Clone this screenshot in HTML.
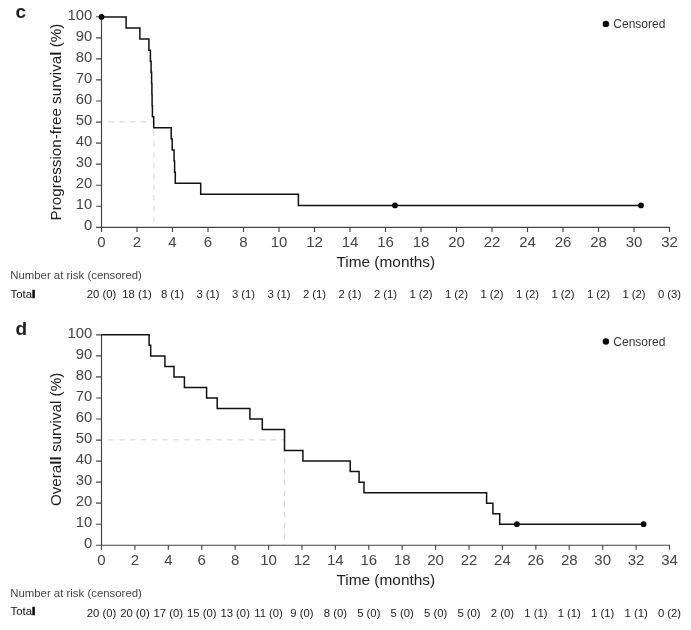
<!DOCTYPE html>
<html lang="en"><head><meta charset="utf-8"><title>Kaplan-Meier survival curves</title>
<style>
html,body{margin:0;padding:0;background:#fff}
body{width:691px;height:630px;overflow:hidden}
svg{display:block;font-family:"Liberation Sans",Arial,sans-serif}
.pl{font-weight:bold;font-size:19px;fill:#222}
.ax{fill:none;stroke:#444;stroke-width:1.15}
.dash{fill:none;stroke:#d4d4d4;stroke-width:1;stroke-dasharray:5.8 5}
.cv{fill:none;stroke:#111;stroke-width:1.5;stroke-linejoin:miter}
.dot{fill:#0a0a0a}
.yt{font-size:14.8px;fill:#444;text-anchor:end}
.xt{font-size:15px;fill:#444;text-anchor:middle}
.ti{font-size:15.4px;fill:#1e1e1e;text-anchor:middle}
.yl{font-size:15.2px}
.b{font-weight:bold}
.lg{font-size:12px;fill:#333}
.nr{font-size:11.4px;fill:#444}
.tt{font-size:11.4px;fill:#111}
.bl{font-weight:bold;fill:#000;stroke:#000;stroke-width:0.7}
.rk{font-size:11.3px;fill:#222;text-anchor:middle}
</style></head>
<body>
<svg width="691" height="630" viewBox="0 0 691 630">
<rect width="691" height="630" fill="#fff"/>
<g class="panel">
<text class="pl" x="15.6" y="17.85">c</text>
<path class="dash" d="M108.3 121.85H153.90V227.35"/>
<path class="ax" d="M101.50 16.25V227.35H670.00"/>
<path class="ax" d="M96.10 227.35H101.50M96.10 206.29H101.50M96.10 185.23H101.50M96.10 164.17H101.50M96.10 143.11H101.50M96.10 122.05H101.50M96.10 100.99H101.50M96.10 79.93H101.50M96.10 58.87H101.50M96.10 37.81H101.50M96.10 16.75H101.50M101.50 227.35v4.6M137.00 227.35v4.6M172.50 227.35v4.6M208.00 227.35v4.6M243.50 227.35v4.6M279.00 227.35v4.6M314.50 227.35v4.6M350.00 227.35v4.6M385.50 227.35v4.6M421.00 227.35v4.6M456.50 227.35v4.6M492.00 227.35v4.6M527.50 227.35v4.6M563.00 227.35v4.6M598.50 227.35v4.6M634.00 227.35v4.6M669.50 227.35v4.6"/>
<text class="yt" x="92.15" y="230.25">0</text>
<text class="yt" x="92.15" y="209.19">10</text>
<text class="yt" x="92.15" y="188.13">20</text>
<text class="yt" x="92.15" y="167.07">30</text>
<text class="yt" x="92.15" y="146.01">40</text>
<text class="yt" x="92.15" y="124.95">50</text>
<text class="yt" x="92.15" y="103.89">60</text>
<text class="yt" x="92.15" y="82.83">70</text>
<text class="yt" x="92.15" y="61.77">80</text>
<text class="yt" x="92.15" y="40.71">90</text>
<text class="yt" x="92.15" y="19.65">100</text>
<text class="xt" x="101.50" y="247.45">0</text>
<text class="xt" x="137.00" y="247.45">2</text>
<text class="xt" x="172.50" y="247.45">4</text>
<text class="xt" x="208.00" y="247.45">6</text>
<text class="xt" x="243.50" y="247.45">8</text>
<text class="xt" x="279.00" y="247.45">10</text>
<text class="xt" x="314.50" y="247.45">12</text>
<text class="xt" x="350.00" y="247.45">14</text>
<text class="xt" x="385.50" y="247.45">16</text>
<text class="xt" x="421.00" y="247.45">18</text>
<text class="xt" x="456.50" y="247.45">20</text>
<text class="xt" x="492.00" y="247.45">22</text>
<text class="xt" x="527.50" y="247.45">24</text>
<text class="xt" x="563.00" y="247.45">26</text>
<text class="xt" x="598.50" y="247.45">28</text>
<text class="xt" x="634.00" y="247.45">30</text>
<text class="xt" x="669.50" y="247.45">32</text>
<text class="ti" x="385.80" y="266.95">Time (months)</text>
<text class="ti yl" transform="translate(61.3 122.05) rotate(-90)">Progression-free surviva<tspan class="b">l</tspan> (%)</text>
<path class="cv" d="M101.50 16.90H126.10V27.99H139.90V39.08H148.90V50.18H150.40V61.27H151.10V72.36H151.60V83.45H151.90V94.54H152.10V105.64H152.40V116.73H153.70V127.82H171.20V138.91H172.20V150.01H174.10V161.10H174.60V172.19H175.30V183.28H200.70V194.37H298.40V205.47H641.00"/>
<circle class="dot" cx="101.50" cy="16.90" r="2.85"/>
<circle class="dot" cx="395.00" cy="205.47" r="2.85"/>
<circle class="dot" cx="641.00" cy="205.47" r="2.85"/>
<circle class="dot" cx="605.9" cy="23.90" r="3.2"/>
<text class="lg" x="613.3" y="27.90">Censored</text>
<text class="nr" x="10.2" y="279.30">Number at risk (censored)</text>
<text class="tt" x="10.5" y="298.20">Tota<tspan class="bl">l</tspan></text>
<text class="rk" x="101.50" y="297.80">20 (0)</text>
<text class="rk" x="137.00" y="297.80">18 (1)</text>
<text class="rk" x="172.50" y="297.80">8 (1)</text>
<text class="rk" x="208.00" y="297.80">3 (1)</text>
<text class="rk" x="243.50" y="297.80">3 (1)</text>
<text class="rk" x="279.00" y="297.80">3 (1)</text>
<text class="rk" x="314.50" y="297.80">2 (1)</text>
<text class="rk" x="350.00" y="297.80">2 (1)</text>
<text class="rk" x="385.50" y="297.80">2 (1)</text>
<text class="rk" x="421.00" y="297.80">1 (2)</text>
<text class="rk" x="456.50" y="297.80">1 (2)</text>
<text class="rk" x="492.00" y="297.80">1 (2)</text>
<text class="rk" x="527.50" y="297.80">1 (2)</text>
<text class="rk" x="563.00" y="297.80">1 (2)</text>
<text class="rk" x="598.50" y="297.80">1 (2)</text>
<text class="rk" x="634.00" y="297.80">1 (2)</text>
<text class="rk" x="669.50" y="297.80">0 (3)</text>
</g>
<g class="panel">
<text class="pl" x="15.6" y="335.45">d</text>
<path class="dash" d="M108.3 439.85H284.70V545.25"/>
<path class="ax" d="M101.50 334.35V545.25H670.00"/>
<path class="ax" d="M96.10 545.25H101.50M96.10 524.21H101.50M96.10 503.17H101.50M96.10 482.13H101.50M96.10 461.09H101.50M96.10 440.05H101.50M96.10 419.01H101.50M96.10 397.97H101.50M96.10 376.93H101.50M96.10 355.89H101.50M96.10 334.85H101.50M101.50 545.25v4.6M134.91 545.25v4.6M168.32 545.25v4.6M201.74 545.25v4.6M235.15 545.25v4.6M268.56 545.25v4.6M301.97 545.25v4.6M335.38 545.25v4.6M368.79 545.25v4.6M402.21 545.25v4.6M435.62 545.25v4.6M469.03 545.25v4.6M502.44 545.25v4.6M535.85 545.25v4.6M569.26 545.25v4.6M602.68 545.25v4.6M636.09 545.25v4.6M669.50 545.25v4.6"/>
<text class="yt" x="92.15" y="548.15">0</text>
<text class="yt" x="92.15" y="527.11">10</text>
<text class="yt" x="92.15" y="506.07">20</text>
<text class="yt" x="92.15" y="485.03">30</text>
<text class="yt" x="92.15" y="463.99">40</text>
<text class="yt" x="92.15" y="442.95">50</text>
<text class="yt" x="92.15" y="421.91">60</text>
<text class="yt" x="92.15" y="400.87">70</text>
<text class="yt" x="92.15" y="379.83">80</text>
<text class="yt" x="92.15" y="358.79">90</text>
<text class="yt" x="92.15" y="337.75">100</text>
<text class="xt" x="101.50" y="565.05">0</text>
<text class="xt" x="134.91" y="565.05">2</text>
<text class="xt" x="168.32" y="565.05">4</text>
<text class="xt" x="201.74" y="565.05">6</text>
<text class="xt" x="235.15" y="565.05">8</text>
<text class="xt" x="268.56" y="565.05">10</text>
<text class="xt" x="301.97" y="565.05">12</text>
<text class="xt" x="335.38" y="565.05">14</text>
<text class="xt" x="368.79" y="565.05">16</text>
<text class="xt" x="402.21" y="565.05">18</text>
<text class="xt" x="435.62" y="565.05">20</text>
<text class="xt" x="469.03" y="565.05">22</text>
<text class="xt" x="502.44" y="565.05">24</text>
<text class="xt" x="535.85" y="565.05">26</text>
<text class="xt" x="569.26" y="565.05">28</text>
<text class="xt" x="602.68" y="565.05">30</text>
<text class="xt" x="636.09" y="565.05">32</text>
<text class="xt" x="669.50" y="565.05">34</text>
<text class="ti" x="385.80" y="584.85">Time (months)</text>
<text class="ti yl" transform="translate(61.3 439.45) rotate(-90)">Overa<tspan class="b">ll</tspan> survival (%)</text>
<path class="cv" d="M101.50 334.85H149.10V345.37H150.70V355.89H164.90V366.41H174.00V376.93H184.40V387.45H206.60V397.97H217.20V408.49H249.90V419.01H262.30V429.53H284.50V450.57H302.90V461.09H350.20V471.61H359.10V482.13H364.00V492.65H486.60V503.17H492.90V513.69H499.70V524.21H643.60"/>
<circle class="dot" cx="516.90" cy="524.21" r="2.85"/>
<circle class="dot" cx="643.60" cy="524.21" r="2.85"/>
<circle class="dot" cx="605.9" cy="341.50" r="3.2"/>
<text class="lg" x="613.3" y="345.50">Censored</text>
<text class="nr" x="10.2" y="596.90">Number at risk (censored)</text>
<text class="tt" x="10.5" y="615.10">Tota<tspan class="bl">l</tspan></text>
<text class="rk" x="101.50" y="616.80">20 (0)</text>
<text class="rk" x="134.91" y="616.80">20 (0)</text>
<text class="rk" x="168.32" y="616.80">17 (0)</text>
<text class="rk" x="201.74" y="616.80">15 (0)</text>
<text class="rk" x="235.15" y="616.80">13 (0)</text>
<text class="rk" x="268.56" y="616.80">11 (0)</text>
<text class="rk" x="301.97" y="616.80">9 (0)</text>
<text class="rk" x="335.38" y="616.80">8 (0)</text>
<text class="rk" x="368.79" y="616.80">5 (0)</text>
<text class="rk" x="402.21" y="616.80">5 (0)</text>
<text class="rk" x="435.62" y="616.80">5 (0)</text>
<text class="rk" x="469.03" y="616.80">5 (0)</text>
<text class="rk" x="502.44" y="616.80">2 (0)</text>
<text class="rk" x="535.85" y="616.80">1 (1)</text>
<text class="rk" x="569.26" y="616.80">1 (1)</text>
<text class="rk" x="602.68" y="616.80">1 (1)</text>
<text class="rk" x="636.09" y="616.80">1 (1)</text>
<text class="rk" x="669.50" y="616.80">0 (2)</text>
</g>
</svg>
</body></html>
